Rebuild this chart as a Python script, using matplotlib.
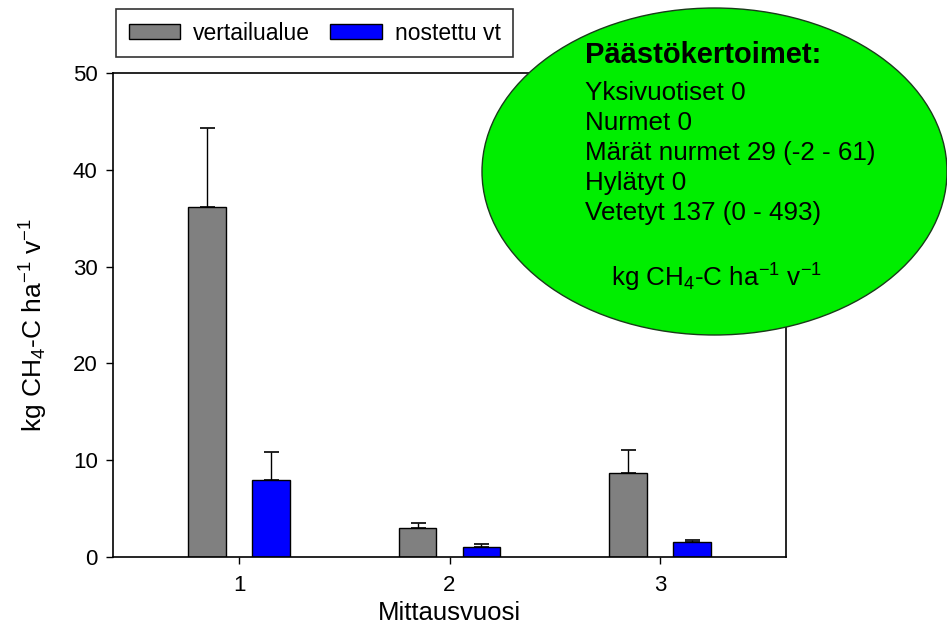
import matplotlib
matplotlib.use("Agg")
import matplotlib.pyplot as plt
import numpy as np
from matplotlib.patches import Ellipse

plt.rcParams['font.family'] = ['Liberation Sans', 'DejaVu Sans']
plt.rcParams['mathtext.fontset'] = 'custom'
plt.rcParams['mathtext.rm'] = 'Liberation Sans'
plt.rcParams['mathtext.it'] = 'Liberation Sans'
plt.rcParams['mathtext.default'] = 'regular'

# data
years = [1, 2, 3]
vertailu = [36.2, 3.0, 8.7]
vertailu_err = [8.1, 0.5, 2.35]
nostettu = [8.0, 1.0, 1.55]
nostettu_err = [2.8, 0.3, 0.2]

series_names = ['vertailualue', 'nostettu vt']
series_colors = ['#808080', '#0000ff']

box_title = 'Päästökertoimet:'
box_lines = ['Yksivuotiset 0', 'Nurmet 0', 'Märät nurmet 29 (-2 - 61)',
             'Hylätyt 0', 'Vetetyt 137 (0 - 493)']
unit = r'kg CH$_4$-C ha$^{-1}$ v$^{-1}$'

W, H = 947, 632
fig = plt.figure(figsize=(W / 100, H / 100), dpi=100)
ax = fig.add_axes([113 / W, 1 - 557 / H, (786 - 113) / W, (557 - 73) / H])

x = np.array(years, dtype=float)
bw = 0.18
off = 0.152
err_kw = dict(ecolor='black', elinewidth=1.0, capsize=5.4, capthick=1.2)
ax.bar(x - off, vertailu, bw, color=series_colors[0], edgecolor='black',
       linewidth=1.0, label=series_names[0], zorder=2)
ax.errorbar(x - off, vertailu, yerr=[np.zeros(3), vertailu_err], fmt='none',
            zorder=1, **err_kw)
ax.bar(x + off, nostettu, bw, color=series_colors[1], edgecolor='black',
       linewidth=1.0, label=series_names[1], zorder=2)
ax.errorbar(x + off, nostettu, yerr=[np.zeros(3), nostettu_err], fmt='none',
            zorder=1, **err_kw)

ax.set_xlim(0.4, 3.6)
ax.set_ylim(0, 50)
ax.set_xticks(years)
ax.set_yticks([0, 10, 20, 30, 40, 50])
for s in ax.spines.values():
    s.set_linewidth(1.2)
ax.tick_params(direction='out', length=5, width=1.0, labelsize=16)
ax.tick_params(axis='x', pad=8)
ax.tick_params(axis='y', pad=6)
ax.set_xlabel('Mittausvuosi', fontsize=18.5, labelpad=3.5)
ax.set_ylabel(unit, fontsize=19)
ax.yaxis.set_label_coords(-0.093, 0.48)

fig.legend(loc='upper left', bbox_to_anchor=(116 / W, 1 - 9 / H),
           bbox_transform=fig.transFigure, ncol=2, fontsize=16.5,
           frameon=True, fancybox=False, edgecolor='black',
           handlelength=2.25, handleheight=0.66, handletextpad=0.55,
           columnspacing=0.9, borderpad=0.55, borderaxespad=0)
fig.legends[0].get_frame().set_linewidth(1.2)

# green ellipse with emission factors
ell = Ellipse((714.5 / W, 1 - 171.5 / H), 465 / W, 327 / H,
              transform=fig.transFigure, facecolor='#00ee00',
              edgecolor='#1a3a1a', linewidth=1.0, zorder=5)
fig.patches.append(ell)

fig.text(585 / W, 1 - 63 / H, box_title, fontsize=21, fontweight='bold',
         va='baseline', ha='left', zorder=6)
for i, line in enumerate(box_lines):
    fig.text(585 / W, 1 - (100 + 30 * i) / H, line, fontsize=18.7,
             va='baseline', ha='left', zorder=6)
fig.text(716 / W, 1 - 287 / H, unit, fontsize=18.7, va='baseline',
         ha='center', zorder=6)

fig.savefig('out.png', dpi=100)
